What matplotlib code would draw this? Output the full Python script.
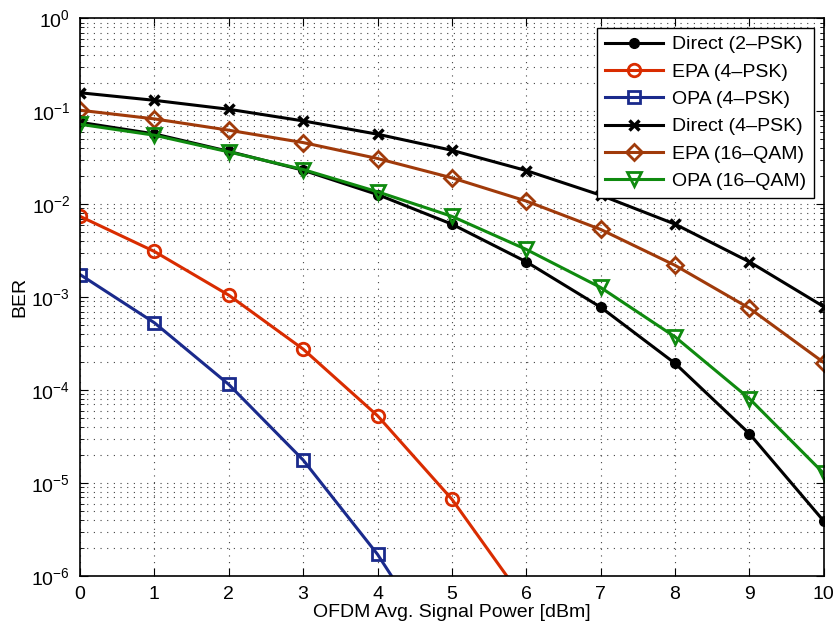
import numpy as np
import matplotlib
matplotlib.use('Agg')
import matplotlib.pyplot as plt
from matplotlib.ticker import LogLocator, NullFormatter, MultipleLocator

plt.rcParams['font.family'] = ['Liberation Sans', 'DejaVu Sans']
plt.rcParams['mathtext.fontset'] = 'custom'
plt.rcParams['mathtext.rm'] = 'Liberation Sans'
plt.rcParams['mathtext.it'] = 'Liberation Sans'
plt.rcParams['mathtext.default'] = 'regular'

# Signal power [dBm]
power = [0, 1, 2, 3, 4, 5, 6, 7, 8, 9, 10]

# BER curves
direct_2psk = [0.076, 0.057, 0.037, 0.0232, 0.0127, 0.0061, 0.0024, 0.00078, 0.000194, 3.4e-5, 3.9e-6]
epa_4psk = [0.0074, 0.0031, 0.00105, 0.000276, 5.3e-5, 6.7e-6, 5.1e-7, 3e-8, 1e-9, 1e-10, 1e-11]
opa_4psk = [0.00175, 0.00053, 0.000115, 1.77e-5, 1.71e-6, 1.0e-7, 4e-9, 1e-10, 1e-11, 1e-12, 1e-13]
direct_4psk = [0.158, 0.131, 0.105, 0.0787, 0.0566, 0.038, 0.023, 0.0125, 0.0061, 0.0024, 0.00079]
epa_16qam = [0.1025, 0.0827, 0.0625, 0.046, 0.031, 0.0192, 0.0108, 0.00535, 0.0022, 0.00076, 0.000198]
opa_16qam = [0.0724, 0.0552, 0.0365, 0.0236, 0.0136, 0.0074, 0.00326, 0.00127, 0.000374, 8.1e-5, 1.27e-5]

fig = plt.figure(figsize=(8.38, 6.30), dpi=100)
ax = fig.add_axes([0.0955, 0.0857, 0.8875, 0.8853])

lw = 2.2
ax.semilogy(power, direct_2psk, '-o', color='black', lw=lw, ms=7, mfc='black', label='Direct (2–PSK)')
ax.semilogy(power, epa_4psk, '-o', color='#D92C00', lw=lw, ms=9, mfc='none', mew=2, label='EPA (4–PSK)')
ax.semilogy(power, opa_4psk, '-s', color='#1A2A8C', lw=lw, ms=8, mfc='none', mew=2, label='OPA (4–PSK)')
ax.semilogy(power, direct_4psk, '-x', color='black', lw=lw, ms=7, mew=2.5, label='Direct (4–PSK)')
ax.semilogy(power, epa_16qam, '-D', color='#A03A0A', lw=lw, ms=8, mfc='none', mew=2, label='EPA (16–QAM)')
ax.semilogy(power, opa_16qam, '-v', color='#0F8A0F', lw=lw, ms=10, mfc='none', mew=2, label='OPA (16–QAM)')

ax.set_xlim(0, 10)
ax.set_ylim(1e-6, 1)
ax.xaxis.set_major_locator(MultipleLocator(1))
ax.yaxis.set_major_locator(LogLocator(base=10, numticks=10))
ax.yaxis.set_minor_locator(LogLocator(base=10, subs=np.arange(2, 10), numticks=10))
ax.yaxis.set_minor_formatter(NullFormatter())

dots = (0, (1, 5))
ax.grid(True, which='major', linestyle=dots, color='#444444', lw=0.8)
ax.grid(True, which='minor', axis='y', linestyle=dots, color='#444444', lw=0.8)
ax.set_axisbelow(True)
ax.tick_params(which='both', direction='in', top=True, right=True, labelsize=14, pad=7)
ax.tick_params(which='major', length=6)
ax.tick_params(which='minor', length=3)
for s in ax.spines.values():
    s.set_linewidth(1.2)

ax.set_xlabel('OFDM Avg. Signal Power [dBm]', fontsize=14, labelpad=1)
ax.set_ylabel('BER', fontsize=14, labelpad=2)

leg = ax.legend(loc='upper right', fontsize=14, fancybox=False, edgecolor='black',
                framealpha=1, handlelength=3.0, handletextpad=0.45,
                borderaxespad=0.5, labelspacing=0.5, borderpad=0.4)
leg.get_frame().set_linewidth(1.0)

fig.savefig('out.png', dpi=100)
